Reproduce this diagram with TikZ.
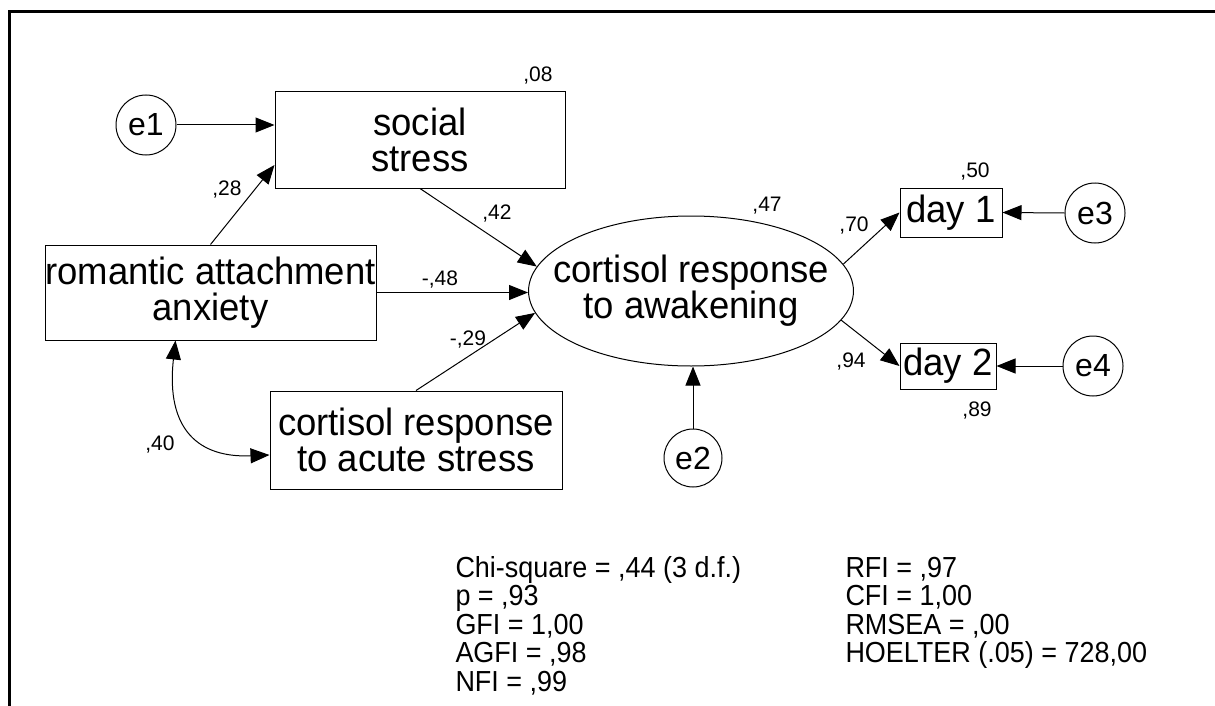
\documentclass[tikz,border=0pt]{standalone}
\usepackage{fontspec}
\setmainfont{Liberation Sans}
\newfontfamily\boxfont[FakeStretch=0.96]{Liberation Sans}
\newfontfamily\statfont[FakeStretch=0.93]{Liberation Sans}
\usetikzlibrary{arrows.meta,shapes.geometric}
\begin{document}
\begin{tikzpicture}[x=1pt,y=-1pt,
  line width=1pt,
  obs/.style={draw, rectangle, inner sep=0pt, align=center, font=\boxfont\fontsize{38}{36}\selectfont},
  lat/.style={draw, ellipse, inner sep=-23pt, align=center, font=\boxfont\fontsize{38}{36}\selectfont},
  err/.style={draw, circle, inner sep=0pt, minimum size=60pt, font=\fontsize{32}{32}\selectfont},
  coef/.style={inner sep=0pt, font=\fontsize{21}{21}\selectfont},
  arr/.style={-{Triangle[length=19pt,width=15pt]}},
  cov/.style={{Triangle[length=19pt,width=15pt]}-{Triangle[length=19pt,width=15pt]}},
  statline/.style={inner sep=0pt, anchor=base west, font=\statfont\fontsize{29}{29}\selectfont}
]
\useasboundingbox (0,0) rectangle (1215,706);

% frame
\draw[line width=3pt] (9,706) -- (9,12) -- (1215,12);

% observed variables
\node[obs, minimum width=290pt, minimum height=96pt] (social) at (420,140) {social\\stress};
\node[obs, minimum width=331pt, minimum height=95pt] (rom) at (210.5,292.5) {romantic attachment\\anxiety};
\node[obs, minimum width=292pt, minimum height=98pt] (acute) at (416,440) {cortisol response\\to acute stress};
\node[obs, minimum width=102pt, minimum height=49pt] (day1) at (951,212.5) {day 1};
\node[obs, minimum width=96pt, minimum height=46pt] (day2) at (948,366) {day 2};

% latent variable
\node[lat, minimum width=320pt, minimum height=150pt] (ell) at (691,291) {cortisol response\\to awakening};

% error terms
\node[err] (e1) at (146,125) {e1};
\node[err, minimum size=58pt] (e2) at (693,458) {e2};
\node[err] (e3) at (1095,213) {e3};
\node[err] (e4) at (1093,366) {e4};

% paths
\draw[arr] (e1) -- (e1 -| social.west);
\draw[arr] (rom.north) -- ([yshift=-25pt]social.west);
\draw[arr] (social.south) -- (ell.171);
\draw[arr] (rom.east) -- (rom.east -| ell.west);
\draw[arr] (acute.north) -- (ell.188);
\draw[arr] (e2.north) -- (e2.north |- ell.south);
\draw[arr] (ell.10) -- (day1.west);
\draw[arr] (ell.-11) -- (day2.west);
\draw[arr] (e3.west) -- (day1.east);
\draw[arr] (e4.west) -- (day2.east);
\draw[cov] ([xshift=-35pt]rom.south) .. controls +(-10,90) and +(-70,3) .. ([yshift=-15pt]acute.west);

% estimates
\node[coef] (c08) at (538,76) {,08};
\node[coef] (c28) at (227,190) {,28};
\node[coef] (c42) at (497,214) {,42};
\node[coef] (c48) at (440,280) {-,48};
\node[coef] (c29) at (468,340) {-,29};
\node[coef] (c40) at (160,445) {,40};
\node[coef] (c47) at (767,206) {,47};
\node[coef] (c70) at (854,226) {,70};
\node[coef] (c50) at (975,172) {,50};
\node[coef] (c94) at (851,362) {,94};
\node[coef] (c89) at (977,411) {,89};

% fit statistics
\node[statline] (s1) at (455,577) {Chi-square = ,44 (3 d.f.)};
\node[statline] (s2) at (455,605.5) {p = ,93};
\node[statline] (s3) at (455,634) {GFI = 1,00};
\node[statline] (s4) at (455,662.5) {AGFI = ,98};
\node[statline] (s5) at (455,691) {NFI = ,99};
\node[statline] (t1) at (845,577) {RFI = ,97};
\node[statline] (t2) at (845,605.5) {CFI = 1,00};
\node[statline] (t3) at (845,634) {RMSEA = ,00};
\node[statline] (t4) at (845,662.5) {HOELTER (.05) = 728,00};
\end{tikzpicture}
\end{document}
